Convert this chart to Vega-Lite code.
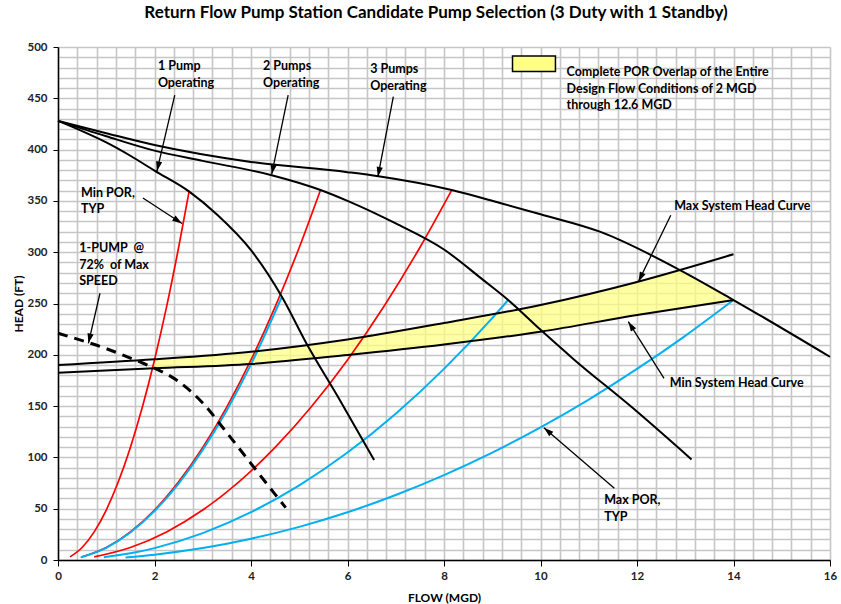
{
  "$schema": "https://vega.github.io/schema/vega-lite/v6.json",
  "autosize": "none",
  "width": 772,
  "height": 513,
  "padding": {"left": 58, "top": 47, "right": 11, "bottom": 44},
  "background": "white",
  "config": {
    "view": {"stroke": null},
    "font": "Lato",
    "text": {"font": "Lato"},
    "axis": {"labelFont": "Lato", "titleFont": "Lato", "labelFontSize": 11.5, "labelFontWeight": "bold", "labelColor": "#222222", "labelOverlap": false, "labelFlush": false, "tickColor": "#000000", "domainColor": "#000000", "domainWidth": 1.5, "grid": true, "gridColor": "#c6c6c6", "gridWidth": 1.6, "titleFontSize": 12, "titleFontWeight": "bold", "titleColor": "#000000", "format": "d"},
    "axisX": {"labelPadding": 4, "tickSize": 6, "titleY": 37, "titleBaseline": "middle"},
    "axisY": {"labelPadding": 6, "tickSize": 5, "titleAngle": -90, "titleX": -40, "titleY": 256.5, "titleAlign": "center", "titleBaseline": "middle"}
  },
  "title": {
    "text": "Return Flow Pump Station Candidate Pump Selection (3 Duty with 1 Standby)",
    "font": "Lato",
    "fontSize": 17,
    "fontWeight": "bold",
    "color": "#000000",
    "frame": "group",
    "offset": 19,
    "dx": -8
  },
  "datasets": {
    "vgrid": [{"x": 2}, {"x": 4}, {"x": 6}, {"x": 8}, {"x": 10}, {"x": 12}, {"x": 14}, {"x": 16}],
    "hgrid": [{"y": 50}, {"y": 100}, {"y": 150}, {"y": 200}, {"y": 250}, {"y": 300}, {"y": 350}, {"y": 400}, {"y": 450}, {"y": 500}],
    "curves": [
      {"series": "pump1", "kind": "pump", "x": 0, "y": 428},
      {"series": "pump1", "kind": "pump", "x": 0.5, "y": 418},
      {"series": "pump1", "kind": "pump", "x": 1, "y": 407},
      {"series": "pump1", "kind": "pump", "x": 1.5, "y": 394},
      {"series": "pump1", "kind": "pump", "x": 2, "y": 379.5},
      {"series": "pump1", "kind": "pump", "x": 2.72, "y": 359},
      {"series": "pump1", "kind": "pump", "x": 3.3, "y": 336.5},
      {"series": "pump1", "kind": "pump", "x": 4, "y": 302},
      {"series": "pump1", "kind": "pump", "x": 4.64, "y": 256.6},
      {"series": "pump1", "kind": "pump", "x": 5.15, "y": 211},
      {"series": "pump1", "kind": "pump", "x": 5.84, "y": 156},
      {"series": "pump1", "kind": "pump", "x": 6.55, "y": 97.5},

      {"series": "pump2", "kind": "pump", "x": 0, "y": 428},
      {"series": "pump2", "kind": "pump", "x": 1, "y": 413},
      {"series": "pump2", "kind": "pump", "x": 2, "y": 399},
      {"series": "pump2", "kind": "pump", "x": 3, "y": 389},
      {"series": "pump2", "kind": "pump", "x": 4.43, "y": 375},
      {"series": "pump2", "kind": "pump", "x": 5.44, "y": 360.6},
      {"series": "pump2", "kind": "pump", "x": 6, "y": 350},
      {"series": "pump2", "kind": "pump", "x": 7, "y": 328},
      {"series": "pump2", "kind": "pump", "x": 8, "y": 302.6},
      {"series": "pump2", "kind": "pump", "x": 8.81, "y": 273},
      {"series": "pump2", "kind": "pump", "x": 9.33, "y": 253.4},
      {"series": "pump2", "kind": "pump", "x": 9.99, "y": 224.8},
      {"series": "pump2", "kind": "pump", "x": 10.68, "y": 196},
      {"series": "pump2", "kind": "pump", "x": 11.92, "y": 147.8},
      {"series": "pump2", "kind": "pump", "x": 13.13, "y": 98},

      {"series": "pump3", "kind": "pump", "x": 0, "y": 428},
      {"series": "pump3", "kind": "pump", "x": 1, "y": 416},
      {"series": "pump3", "kind": "pump", "x": 2, "y": 404.5},
      {"series": "pump3", "kind": "pump", "x": 4, "y": 388},
      {"series": "pump3", "kind": "pump", "x": 6, "y": 378},
      {"series": "pump3", "kind": "pump", "x": 6.64, "y": 374},
      {"series": "pump3", "kind": "pump", "x": 8.16, "y": 360.6},
      {"series": "pump3", "kind": "pump", "x": 9.16, "y": 348},
      {"series": "pump3", "kind": "pump", "x": 10, "y": 337},
      {"series": "pump3", "kind": "pump", "x": 11.23, "y": 320},
      {"series": "pump3", "kind": "pump", "x": 12.89, "y": 282.6},
      {"series": "pump3", "kind": "pump", "x": 14, "y": 253.4},
      {"series": "pump3", "kind": "pump", "x": 16, "y": 198},

      {"series": "maxsys", "kind": "pump", "x": 0, "y": 190},
      {"series": "maxsys", "kind": "pump", "x": 2, "y": 195.6},
      {"series": "maxsys", "kind": "pump", "x": 4, "y": 203},
      {"series": "maxsys", "kind": "pump", "x": 6, "y": 215},
      {"series": "maxsys", "kind": "pump", "x": 8, "y": 231},
      {"series": "maxsys", "kind": "pump", "x": 10, "y": 248.5},
      {"series": "maxsys", "kind": "pump", "x": 12, "y": 271},
      {"series": "maxsys", "kind": "pump", "x": 14, "y": 298},

      {"series": "minsys", "kind": "pump", "x": 0, "y": 182.6},
      {"series": "minsys", "kind": "pump", "x": 2, "y": 186.8},
      {"series": "minsys", "kind": "pump", "x": 4, "y": 191},
      {"series": "minsys", "kind": "pump", "x": 6, "y": 199.8},
      {"series": "minsys", "kind": "pump", "x": 8, "y": 210},
      {"series": "minsys", "kind": "pump", "x": 10, "y": 222.5},
      {"series": "minsys", "kind": "pump", "x": 12, "y": 238.8},
      {"series": "minsys", "kind": "pump", "x": 14, "y": 253.4},

      {"series": "r1", "kind": "minpor", "x": 0.25, "y": 3.05},
      {"series": "r1", "kind": "minpor", "x": 0.5, "y": 12.2},
      {"series": "r1", "kind": "minpor", "x": 0.75, "y": 27.4},
      {"series": "r1", "kind": "minpor", "x": 1, "y": 48.7},
      {"series": "r1", "kind": "minpor", "x": 1.25, "y": 76.2},
      {"series": "r1", "kind": "minpor", "x": 1.5, "y": 109.7},
      {"series": "r1", "kind": "minpor", "x": 1.75, "y": 149.3},
      {"series": "r1", "kind": "minpor", "x": 2, "y": 195},
      {"series": "r1", "kind": "minpor", "x": 2.25, "y": 246.7},
      {"series": "r1", "kind": "minpor", "x": 2.5, "y": 304.6},
      {"series": "r1", "kind": "minpor", "x": 2.72, "y": 360},

      {"series": "r2", "kind": "minpor", "x": 0.5, "y": 3.05},
      {"series": "r2", "kind": "minpor", "x": 1, "y": 12.2},
      {"series": "r2", "kind": "minpor", "x": 1.5, "y": 27.4},
      {"series": "r2", "kind": "minpor", "x": 2, "y": 48.7},
      {"series": "r2", "kind": "minpor", "x": 2.5, "y": 76.2},
      {"series": "r2", "kind": "minpor", "x": 3, "y": 109.7},
      {"series": "r2", "kind": "minpor", "x": 3.5, "y": 149.3},
      {"series": "r2", "kind": "minpor", "x": 4, "y": 195},
      {"series": "r2", "kind": "minpor", "x": 4.5, "y": 246.7},
      {"series": "r2", "kind": "minpor", "x": 5, "y": 304.6},
      {"series": "r2", "kind": "minpor", "x": 5.44, "y": 360.6},

      {"series": "r3", "kind": "minpor", "x": 0.75, "y": 3.05},
      {"series": "r3", "kind": "minpor", "x": 1.5, "y": 12.2},
      {"series": "r3", "kind": "minpor", "x": 2.25, "y": 27.4},
      {"series": "r3", "kind": "minpor", "x": 3, "y": 48.7},
      {"series": "r3", "kind": "minpor", "x": 3.75, "y": 76.2},
      {"series": "r3", "kind": "minpor", "x": 4.5, "y": 109.7},
      {"series": "r3", "kind": "minpor", "x": 5.25, "y": 149.3},
      {"series": "r3", "kind": "minpor", "x": 6, "y": 195},
      {"series": "r3", "kind": "minpor", "x": 6.75, "y": 246.8},
      {"series": "r3", "kind": "minpor", "x": 7.5, "y": 304.6},
      {"series": "r3", "kind": "minpor", "x": 8.16, "y": 360.6},

      {"series": "b1", "kind": "maxpor", "x": 0.47, "y": 2.6},
      {"series": "b1", "kind": "maxpor", "x": 1, "y": 11.9},
      {"series": "b1", "kind": "maxpor", "x": 1.5, "y": 26.8},
      {"series": "b1", "kind": "maxpor", "x": 2, "y": 47.7},
      {"series": "b1", "kind": "maxpor", "x": 2.5, "y": 74.5},
      {"series": "b1", "kind": "maxpor", "x": 3, "y": 107.3},
      {"series": "b1", "kind": "maxpor", "x": 3.5, "y": 146},
      {"series": "b1", "kind": "maxpor", "x": 4, "y": 190.7},
      {"series": "b1", "kind": "maxpor", "x": 4.64, "y": 256.6},

      {"series": "b2", "kind": "maxpor", "x": 0.95, "y": 2.6},
      {"series": "b2", "kind": "maxpor", "x": 1.5, "y": 6.5},
      {"series": "b2", "kind": "maxpor", "x": 2, "y": 11.6},
      {"series": "b2", "kind": "maxpor", "x": 3, "y": 26.2},
      {"series": "b2", "kind": "maxpor", "x": 4, "y": 46.6},
      {"series": "b2", "kind": "maxpor", "x": 5, "y": 72.8},
      {"series": "b2", "kind": "maxpor", "x": 6, "y": 104.8},
      {"series": "b2", "kind": "maxpor", "x": 7, "y": 142.6},
      {"series": "b2", "kind": "maxpor", "x": 8, "y": 186.3},
      {"series": "b2", "kind": "maxpor", "x": 9, "y": 235.8},
      {"series": "b2", "kind": "maxpor", "x": 9.33, "y": 253.4},

      {"series": "b3", "kind": "maxpor", "x": 1.4, "y": 2.5},
      {"series": "b3", "kind": "maxpor", "x": 2, "y": 5.2},
      {"series": "b3", "kind": "maxpor", "x": 3, "y": 11.6},
      {"series": "b3", "kind": "maxpor", "x": 4, "y": 20.7},
      {"series": "b3", "kind": "maxpor", "x": 5, "y": 32.3},
      {"series": "b3", "kind": "maxpor", "x": 6, "y": 46.5},
      {"series": "b3", "kind": "maxpor", "x": 7, "y": 63.4},
      {"series": "b3", "kind": "maxpor", "x": 8, "y": 82.8},
      {"series": "b3", "kind": "maxpor", "x": 9, "y": 104.7},
      {"series": "b3", "kind": "maxpor", "x": 10, "y": 129.3},
      {"series": "b3", "kind": "maxpor", "x": 11, "y": 156.4},
      {"series": "b3", "kind": "maxpor", "x": 12, "y": 186.2},
      {"series": "b3", "kind": "maxpor", "x": 13, "y": 218.5},
      {"series": "b3", "kind": "maxpor", "x": 14, "y": 253.4},

      {"series": "reduced", "kind": "reduced", "x": 0, "y": 221},
      {"series": "reduced", "kind": "reduced", "x": 1, "y": 206},
      {"series": "reduced", "kind": "reduced", "x": 1.7, "y": 193},
      {"series": "reduced", "kind": "reduced", "x": 2, "y": 187},
      {"series": "reduced", "kind": "reduced", "x": 2.5, "y": 174},
      {"series": "reduced", "kind": "reduced", "x": 3, "y": 153},
      {"series": "reduced", "kind": "reduced", "x": 3.5, "y": 124},
      {"series": "reduced", "kind": "reduced", "x": 4, "y": 94},
      {"series": "reduced", "kind": "reduced", "x": 4.5, "y": 64},
      {"series": "reduced", "kind": "reduced", "x": 4.72, "y": 51}
    ],
    "overlap": [
      {"x": 2, "y": 186.8, "y2": 195.6},
      {"x": 4, "y": 191, "y2": 203},
      {"x": 6, "y": 199.8, "y2": 215},
      {"x": 8, "y": 210, "y2": 231},
      {"x": 10, "y": 222.5, "y2": 248.5},
      {"x": 12, "y": 238.8, "y2": 271},
      {"x": 12.89, "y": 245.3, "y2": 282.6},
      {"x": 14, "y": 253.4, "y2": 253.4}
    ],
    "arrows": [
      {"x": 2.05, "y": 379, "tx": 2.42, "ty": 453},
      {"x": 4.43, "y": 376, "tx": 4.77, "ty": 453},
      {"x": 6.63, "y": 373.6, "tx": 6.95, "ty": 451.6},
      {"x": 2.57, "y": 328, "tx": 1.76, "ty": 352.8},
      {"x": 0.63, "y": 211.2, "tx": 0.87, "ty": 260},
      {"x": 12.03, "y": 271.3, "tx": 12.7, "ty": 336},
      {"x": 11.82, "y": 232.3, "tx": 12.56, "ty": 177},
      {"x": 10.07, "y": 129, "tx": 11.53, "ty": 69.9}
    ],
    "legendbox": [
      {"x": 9.42, "x2": 10.31, "y": 491.2, "y2": 476}
    ],
    "notes": [
      {"label": "1 Pump\nOperating", "x": 2.07, "y": 487},
      {"label": "2 Pumps\nOperating", "x": 4.25, "y": 487},
      {"label": "3 Pumps\nOperating", "x": 6.47, "y": 484},
      {"label": "Min POR,\nTYP", "x": 0.477, "y": 363.7},
      {"label": "1-PUMP\u00a0 @\n72%\u00a0 of Max\nSPEED", "x": 0.44, "y": 309.5},
      {"label": "Complete POR Overlap of the Entire\nDesign Flow Conditions of 2 MGD\nthrough 12.6 MGD", "x": 10.54, "y": 481.3},
      {"label": "Max System Head Curve", "x": 12.77, "y": 350.7},
      {"label": "Min System Head Curve", "x": 12.68, "y": 177.9},
      {"label": "Max POR,\nTYP", "x": 11.32, "y": 64.1}
    ]
  },
  "encoding": {
    "x": {"field": "x", "type": "quantitative", "scale": {"domain": [0, 16], "nice": false, "zero": false},
      "axis": {"title": "FLOW (MGD)", "values": [0,0.4,0.8,1.2,1.6,2,2.4,2.8,3.2,3.6,4,4.4,4.8,5.2,5.6,6,6.4,6.8,7.2,7.6,8,8.4,8.8,9.2,9.6,10,10.4,10.8,11.2,11.6,12,12.4,12.8,13.2,13.6,14,14.4,14.8,15.2,15.6,16],
        "labelExpr": "abs(datum.value/2 - round(datum.value/2)) < 0.001 ? datum.label : ''",
        "tickOpacity": {"condition": {"test": "abs(datum.value/2 - round(datum.value/2)) < 0.001", "value": 1}, "value": 0}}},
    "y": {"field": "y", "type": "quantitative", "scale": {"domain": [0, 500], "nice": false, "zero": false},
      "axis": {"title": "HEAD (FT)", "values": [0,10,20,30,40,50,60,70,80,90,100,110,120,130,140,150,160,170,180,190,200,210,220,230,240,250,260,270,280,290,300,310,320,330,340,350,360,370,380,390,400,410,420,430,440,450,460,470,480,490,500],
        "labelExpr": "datum.value % 50 === 0 ? datum.label : ''",
        "tickOpacity": {"condition": {"test": "datum.value % 50 === 0", "value": 1}, "value": 0}}}
  },
  "layer": [
    {
      "data": {"name": "vgrid"},
      "mark": {"type": "rule", "color": "#3c3c3c", "strokeWidth": 1.3},
      "encoding": {
        "y": {"datum": 0, "type": "quantitative", "scale": {"domain": [0, 500], "nice": false, "zero": false},
          "axis": {"title": "HEAD (FT)", "values": [0,10,20,30,40,50,60,70,80,90,100,110,120,130,140,150,160,170,180,190,200,210,220,230,240,250,260,270,280,290,300,310,320,330,340,350,360,370,380,390,400,410,420,430,440,450,460,470,480,490,500],
            "labelExpr": "datum.value % 50 === 0 ? datum.label : ''",
            "tickOpacity": {"condition": {"test": "datum.value % 50 === 0", "value": 1}, "value": 0}}},
        "y2": {"datum": 500}
      }
    },
    {
      "data": {"name": "hgrid"},
      "mark": {"type": "rule", "color": "#3c3c3c", "strokeWidth": 1.3},
      "encoding": {
        "x": {"datum": 0, "type": "quantitative", "scale": {"domain": [0, 16], "nice": false, "zero": false},
          "axis": {"title": "FLOW (MGD)", "values": [0,0.4,0.8,1.2,1.6,2,2.4,2.8,3.2,3.6,4,4.4,4.8,5.2,5.6,6,6.4,6.8,7.2,7.6,8,8.4,8.8,9.2,9.6,10,10.4,10.8,11.2,11.6,12,12.4,12.8,13.2,13.6,14,14.4,14.8,15.2,15.6,16],
            "labelExpr": "abs(datum.value/2 - round(datum.value/2)) < 0.001 ? datum.label : ''",
            "tickOpacity": {"condition": {"test": "abs(datum.value/2 - round(datum.value/2)) < 0.001", "value": 1}, "value": 0}}},
        "x2": {"datum": 16}
      }
    },
    {
      "data": {"name": "overlap"},
      "mark": {"type": "area", "color": "#FFFF80", "opacity": 0.72, "interpolate": "linear"},
      "encoding": {"y2": {"field": "y2"}}
    },
    {
      "data": {"name": "curves"},
      "transform": [{"filter": "datum.kind === 'minpor'"}],
      "mark": {"type": "line", "color": "#FF0000", "strokeWidth": 1.7, "interpolate": "monotone"},
      "encoding": {"detail": {"field": "series"}}
    },
    {
      "data": {"name": "curves"},
      "transform": [{"filter": "datum.kind === 'maxpor'"}],
      "mark": {"type": "line", "color": "#00B0F0", "strokeWidth": 2, "interpolate": "monotone"},
      "encoding": {"detail": {"field": "series"}}
    },
    {
      "data": {"name": "curves"},
      "transform": [{"filter": "datum.kind === 'pump'"}],
      "mark": {"type": "line", "color": "#000000", "strokeWidth": 2, "interpolate": "monotone"},
      "encoding": {"detail": {"field": "series"}}
    },
    {
      "data": {"name": "curves"},
      "transform": [{"filter": "datum.kind === 'reduced'"}],
      "mark": {"type": "line", "color": "#000000", "strokeWidth": 3, "strokeDash": [10, 7], "interpolate": "monotone"},
      "encoding": {"detail": {"field": "series"}}
    },
    {
      "data": {"name": "arrows"},
      "mark": {"type": "rule", "color": "#000000", "strokeWidth": 1.3},
      "encoding": {"x2": {"field": "tx"}, "y2": {"field": "ty"}}
    },
    {
      "data": {"name": "arrows"},
      "transform": [{"calculate": "atan2((datum.x - datum.tx) * 48.25, (datum.y - datum.ty) * 1.026) * 180 / PI", "as": "ang"}],
      "mark": {"type": "point", "shape": "M0,0L0.32,1L-0.32,1Z", "filled": true, "color": "#000000", "size": 380, "opacity": 1},
      "encoding": {"angle": {"field": "ang", "type": "quantitative", "scale": null}}
    },
    {
      "data": {"name": "legendbox"},
      "mark": {"type": "rect", "fill": "#FFFF88", "stroke": "#000000", "strokeWidth": 1.5},
      "encoding": {"x2": {"field": "x2"}, "y2": {"field": "y2"}}
    },
    {
      "data": {"name": "notes"},
      "mark": {"type": "text", "align": "left", "baseline": "top", "font": "Lato", "fontSize": 12.5, "fontWeight": "bold", "color": "#000000", "lineBreak": "\n", "lineHeight": 16.5},
      "encoding": {"text": {"field": "label"}}
    }
  ]
}
